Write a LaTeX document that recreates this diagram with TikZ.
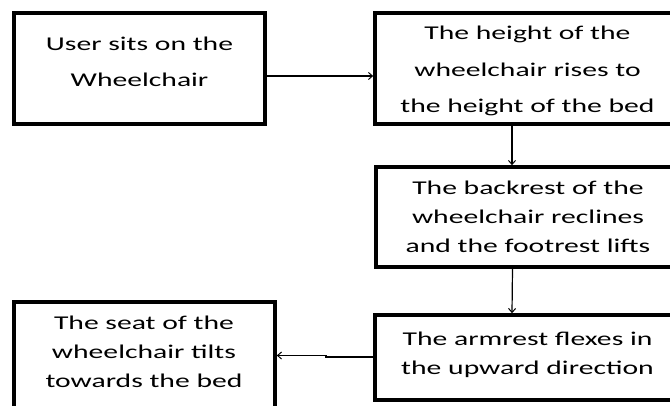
\documentclass[tikz,border=0pt]{standalone}
\usepackage{fontspec}
\setmainfont{Carlito}[FakeStretch=1.52]
\usetikzlibrary{arrows.meta}
\tikzset{
  flowbox/.style={draw=black, line width=3.6pt, rectangle, inner sep=0pt, fill=white},
  flowtext/.style={inner sep=0pt, align=center, text=black},
  arr/.style={draw=black, line width=1.2pt, -{Straight Barb[length=4pt,width=7pt,line width=1pt]}},
}
\newcommand{\rowA}{\fontsize{19.5}{36.5}\selectfont}
\newcommand{\rowB}{\fontsize{19.5}{29}\selectfont}
\begin{document}
\begin{tikzpicture}[x=1pt,y=-1pt]
  \useasboundingbox[fill=white] (0,0) rectangle (670,405);
  % boxes
  \node[flowbox, minimum width=251pt, minimum height=111pt] (b1) at (139.5,68.5) {};
  \node[flowbox, minimum width=305pt, minimum height=111pt] (b2) at (527.5,68.5) {};
  \node[flowbox, minimum width=304pt, minimum height=100pt] (b3) at (528,217) {};
  \node[flowbox, minimum width=305pt, minimum height=85pt] (b4) at (527.5,357.5) {};
  \node[flowbox, minimum width=261pt, minimum height=113pt] (b5) at (144.5,358.5) {};
  % texts
  \node[flowtext, font=\rowA] (t1) at (139.5,62) {User sits on the\\Wheelchair};
  \node[flowtext, font=\rowA] (t2) at (527.5,71) {The height of the\\wheelchair rises to\\the height of the bed};
  \node[flowtext, font=\rowB] (t3) at (528,217) {The backrest of the\\wheelchair reclines\\and the footrest lifts};
  \node[flowtext, font=\rowB] (t4) at (527.5,355) {The armrest flexes in\\the upward direction};
  \node[flowtext, font=\rowB] (t5) at (144,352) {The seat of the\\wheelchair tilts\\towards the bed};
  % connectors
  \draw[arr] ([yshift=-7.5pt]b1.east) -- ([yshift=-7.5pt]b2.west);
  \draw[arr] ([xshift=-15.5pt]b2.south) -- ([xshift=-16pt]b3.north);
  \draw[arr] ([xshift=-15.5pt]b3.south) -- ([xshift=-15.5pt]b4.north);
  \coordinate (jog) at (326,357);
  \draw[arr] (b4.west |- jog) -- (jog) -- ++(0,-1.5) -- (b5.east |- 0,355.5);
\end{tikzpicture}
\end{document}
